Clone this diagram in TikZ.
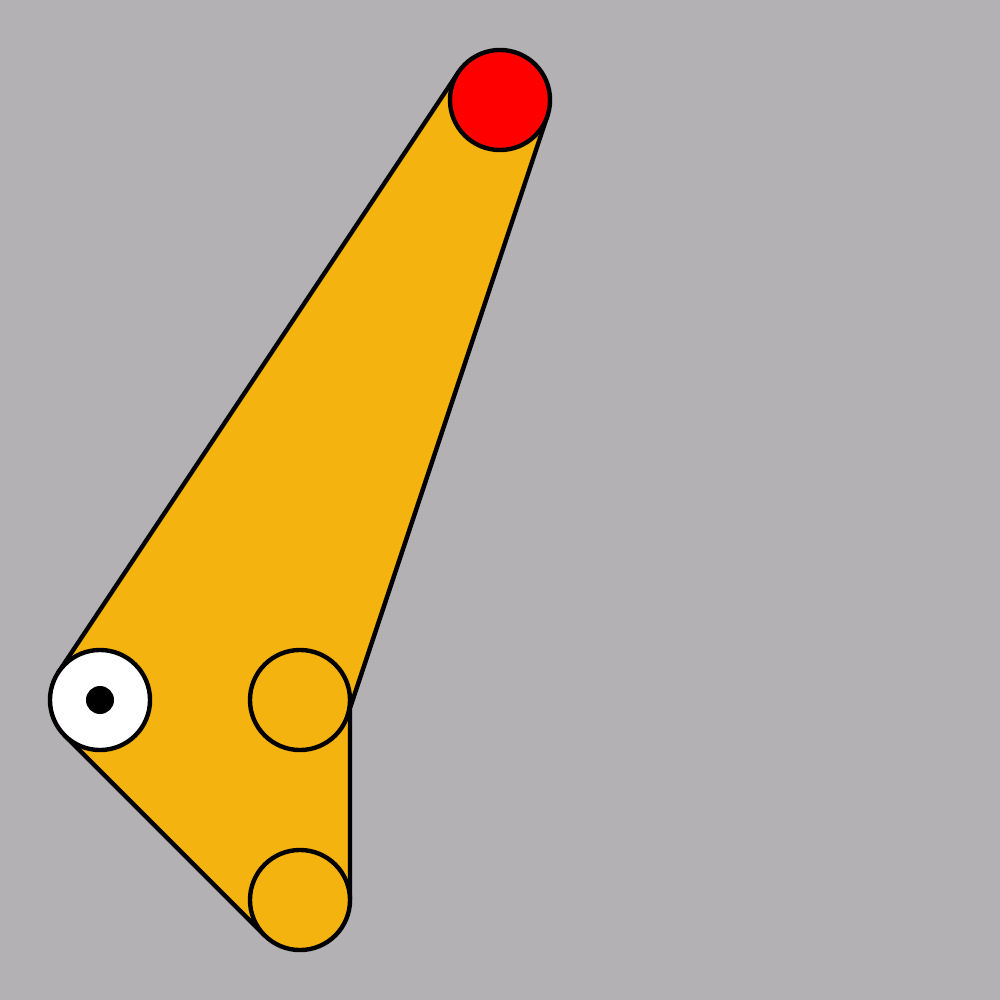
\documentclass[tikz,border=0pt]{standalone}
\definecolor{bg}{RGB}{179,177,180}
\definecolor{body}{RGB}{244,179,14}
\tikzset{
  joint/.style={circle, draw=black, line width=1.25pt, minimum size=1cm, inner sep=0pt, outer sep=0pt},
  hull/.style={fill=body, draw=black, line width=1.25pt, line join=round},
  pin/.style={circle, fill=black, minimum size=0.28cm, inner sep=0pt}
}
\begin{document}
\begin{tikzpicture}[x=0.01cm, y=-0.01cm]
  \fill[bg] (0,0) rectangle (1000,1000);
  \useasboundingbox (0,0) rectangle (1000,1000);
  % body hull (tangent points to circles of radius 50)
  \coordinate (a1) at (458.4,72.3);
  \coordinate (b1) at (58.4,672.3);
  \coordinate (b2) at (64.6,735.4);
  \coordinate (c1) at (264.6,935.4);
  \coordinate (c2) at (350,900);
  \coordinate (d1) at (350,708.1);
  \coordinate (a2) at (547.4,115.8);
  \draw[hull] (a1) -- (b1) -- (b2) -- (c1) -- (c2) -- (d1) -- (a2) -- cycle;
  % joints
  \node[joint, fill=red] (A) at (500,100) {};
  \node[joint, fill=white] (B) at (100,700) {};
  \node[joint, fill=body] (C) at (300,900) {};
  \node[joint, fill=body] (D) at (300,700) {};
  \node[pin] (Bp) at (100,700) {};
\end{tikzpicture}
\end{document}
